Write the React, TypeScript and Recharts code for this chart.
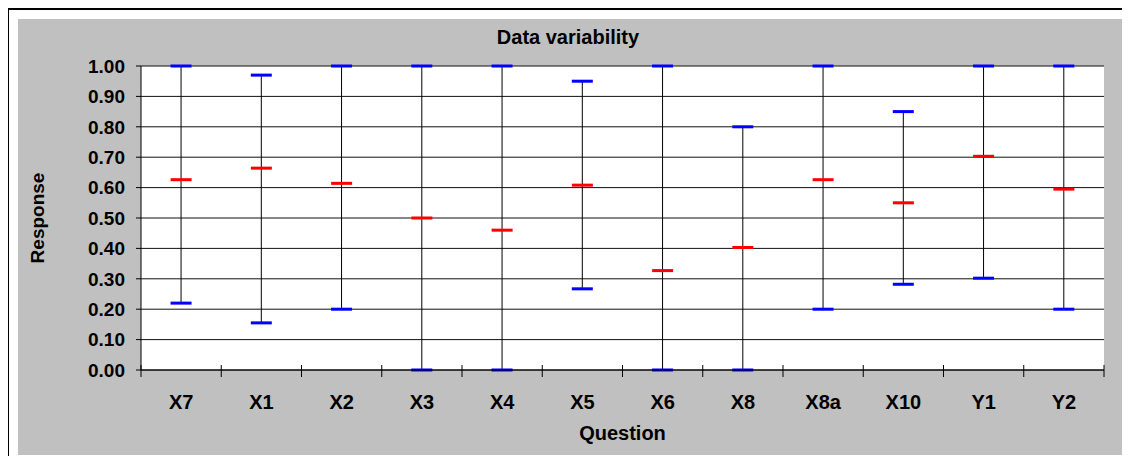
import React from 'react';
import { ComposedChart, Bar, Line, XAxis, YAxis, CartesianGrid } from 'recharts';

const categories = ['X7', 'X1', 'X2', 'X3', 'X4', 'X5', 'X6', 'X8', 'X8a', 'X10', 'Y1', 'Y2'];
const highValues = [1.0, 0.97, 1.0, 1.0, 1.0, 0.95, 1.0, 0.8, 1.0, 0.85, 1.0, 1.0];
const lowValues = [0.22, 0.155, 0.2, 0.0, 0.0, 0.267, 0.0, 0.0, 0.2, 0.282, 0.302, 0.2];
const midValues = [0.626, 0.664, 0.614, 0.5, 0.46, 0.608, 0.327, 0.403, 0.626, 0.55, 0.703, 0.595];
const yTicks = [0, 0.1, 0.2, 0.3, 0.4, 0.5, 0.6, 0.7, 0.8, 0.9, 1.0];

const data = categories.map((c, i) => ({
  name: c,
  range: [lowValues[i], highValues[i]],
  mid: midValues[i],
}));

const FONT = '"Liberation Sans", Arial, sans-serif';
const CAP_W = 21;
const CAP_H = 3;

const RangeShape = (props: any) => {
  const { x, y, width, height } = props;
  const cx = x + width / 2;
  return (
    <g>
      <line x1={cx} x2={cx} y1={y} y2={y + height} stroke="#000" strokeWidth={1} />
      <rect x={cx - CAP_W / 2} y={y - CAP_H / 2} width={CAP_W} height={CAP_H} fill="#0000FF" />
      <rect x={cx - CAP_W / 2} y={y + height - CAP_H / 2} width={CAP_W} height={CAP_H} fill="#0000FF" />
    </g>
  );
};

const MidDot = (props: any) => {
  const { cx, cy } = props;
  if (cx == null || cy == null) return null;
  return <rect x={cx - CAP_W / 2} y={cy - CAP_H / 2} width={CAP_W} height={CAP_H} fill="#FF0000" />;
};

const XTick = (props: any) => {
  const { x, y, payload, index, visibleTicksCount } = props;
  const half = payload && payload.offset ? payload.offset : 963 / categories.length / 2;
  const isLast = index === (visibleTicksCount ?? categories.length) - 1;
  return (
    <g>
      <line x1={x - half} x2={x - half} y1={y - 5} y2={y + 7} stroke="#000" strokeWidth={1} />
      {isLast && <line x1={x + half} x2={x + half} y1={y - 5} y2={y + 7} stroke="#000" strokeWidth={1} />}
      <text x={x} y={y + 39} textAnchor="middle" fontFamily={FONT} fontWeight="bold" fontSize={20} fill="#000">
        {payload.value}
      </text>
    </g>
  );
};

const YLabel = (props: any) => {
  const vb = props.viewBox || { x: 0, y: 0, width: 0, height: 0 };
  const cx = vb.x + 19;
  const cy = vb.y + vb.height / 2;
  return (
    <text
      x={cx}
      y={cy}
      transform={`rotate(-90, ${cx}, ${cy})`}
      textAnchor="middle"
      dominantBaseline="central"
      fontFamily={FONT}
      fontWeight="bold"
      fontSize={19}
      fill="#000"
    >
      Response
    </text>
  );
};

const XLabel = (props: any) => {
  const vb = props.viewBox || { x: 0, y: 0, width: 0, height: 0 };
  return (
    <text
      x={vb.x + vb.width / 2}
      y={vb.y + 70}
      textAnchor="middle"
      fontFamily={FONT}
      fontWeight="bold"
      fontSize={20}
      fill="#000"
    >
      Question
    </text>
  );
};

export default function App() {
  return (
    <div>
      <style>{`html,body{overflow:hidden}`}</style>
      <div
        style={{
          marginLeft: -1,
          width: 1140,
          height: 470,
          border: '2px solid #000',
          boxSizing: 'border-box',
          background: '#fff',
          padding: '9px 0 0 9px',
        }}
      >
        <div style={{ position: 'relative', width: 1106, height: 436, background: '#C0C0C0' }}>
          <div
            style={{
              position: 'absolute',
              left: 0,
              top: 6,
              width: 1100,
              textAlign: 'center',
              fontFamily: FONT,
              fontWeight: 'bold',
              fontSize: 20,
              color: '#000',
              lineHeight: '24px',
            }}
          >
            Data variability
          </div>
          <ComposedChart
            width={1106}
            height={436}
            data={data}
            margin={{ top: 47, right: 20, left: 0, bottom: 0 }}
            barCategoryGap="20%"
          >
            <CartesianGrid vertical={false} stroke="#111" fill="#FFFFFF" fillOpacity={1} />
            <XAxis
              dataKey="name"
              type="category"
              height={85}
              tickLine={false}
              tickSize={0}
              tickMargin={0}
              axisLine={{ stroke: '#000' }}
              interval={0}
              tick={<XTick />}
              label={<XLabel />}
            />
            <YAxis
              type="number"
              domain={[0, 1]}
              ticks={yTicks}
              width={123}
              interval={0}
              tickSize={5}
              tickMargin={11}
              tickLine={{ stroke: '#000' }}
              axisLine={{ stroke: '#000' }}
              tickFormatter={(v: number) => v.toFixed(2)}
              tick={{ fontFamily: FONT, fontWeight: 'bold', fontSize: 19, fill: '#000' }}
              label={<YLabel />}
            />
            <Bar dataKey="range" shape={<RangeShape />} isAnimationActive={false} />
            <Line
              dataKey="mid"
              stroke="none"
              dot={<MidDot />}
              activeDot={false}
              isAnimationActive={false}
            />
          </ComposedChart>
        </div>
      </div>
    </div>
  );
}
